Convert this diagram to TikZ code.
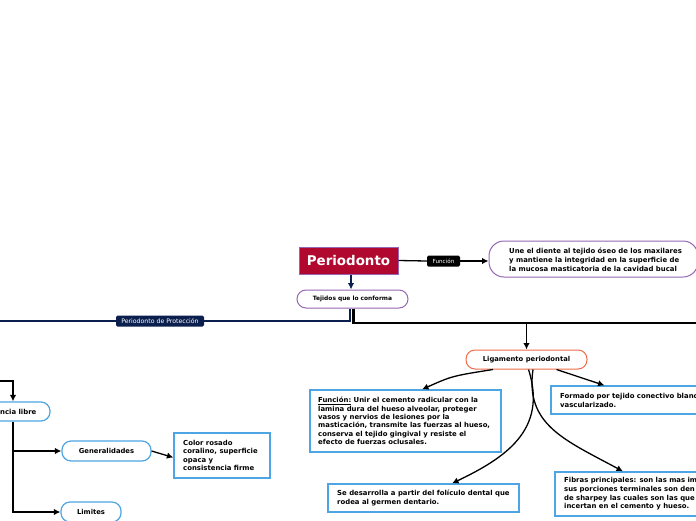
\documentclass[tikz,border=0pt]{standalone}
\usepackage{fontspec}
\setmainfont{DejaVu Sans}
\usetikzlibrary{arrows.meta}
\definecolor{crim}{HTML}{B0082E}
\definecolor{purp}{HTML}{9467B5}
\definecolor{bluec}{HTML}{4DA6E3}
\definecolor{orng}{HTML}{EE6A48}
\definecolor{navy}{HTML}{0B1F4E}
\begin{document}
\begin{tikzpicture}[x=1pt,y=-1pt,
  txt/.style={font=\fontsize{6.9}{8.6}\selectfont\bfseries, inner sep=0pt, align=left, anchor=west},
  shape box/.style={inner sep=0pt, fill=white},
  pbox/.style={shape box, draw=purp, line width=1pt, rounded corners=9pt},
  bbox/.style={shape box, draw=bluec, line width=1.2pt},
  brbox/.style={bbox, rounded corners=9pt},
  obox/.style={shape box, draw=orng, line width=1pt, rounded corners=9pt},
  ctxt/.style={font=\fontsize{6.8}{8.6}\selectfont\bfseries},
  arr/.style={line width=1.3pt, -{Latex[length=6.5pt,width=6.5pt]}},
  plain/.style={line width=1.3pt},
  tag/.style={inner sep=0pt, rounded corners=1.5pt, text=white, font=\fontsize{5.6}{6}\selectfont}
]
\useasboundingbox (0,0) rectangle (696,520);
\clip (0,0) rectangle (696,520);

% main nodes
\node[shape box, fill=crim, draw=purp, line width=1pt, minimum width=99pt, minimum height=27pt,
      text=white, font=\fontsize{13.4}{14}\selectfont\bfseries] (perio) at (348.5,260.5) {Periodonto};
\node[pbox, rounded corners=15pt, minimum width=209pt, minimum height=36pt] (une) at (593.5,259) {};
\node[txt, font=\fontsize{6.9}{9}\selectfont\bfseries] (une-t) at (509,260)
  {Une el diente al tejido óseo de los maxilares\\y mantiene la integridad en la superficie de\\la mucosa masticatoria de la cavidad bucal};
\node[pbox, minimum width=111pt, minimum height=18pt, font=\fontsize{5.9}{7}\selectfont\bfseries] (tej) at (352.5,299) {Tejidos que lo conforma};

\node[tag, fill=black, minimum width=33pt, minimum height=11pt] (funcl) at (443.5,261) {Función};
\node[tag, fill=navy, minimum width=88pt, minimum height=11pt, font=\fontsize{6.2}{7}\selectfont] (protl) at (160,321) {Periodonto de Protección};

\node[obox, minimum width=121pt, minimum height=19pt, ctxt] (lig) at (526.5,359.5) {Ligamento periodontal};

\node[bbox, minimum width=191pt, minimum height=62pt] (funcbox) at (405.5,421) {};
\node[txt, font=\fontsize{6.9}{8.4}\selectfont\bfseries] (funcbox-t) at (318,421)
  {\underline{Función:} Unir el cemento radicular con la\\lamina dura del hueso alveolar, proteger\\vasos y nervios de lesiones por la\\masticación, transmite las fuerzas al hueso,\\conserva el tejido gingival y resiste el\\efecto de fuerzas oclusales.};

\node[bbox, minimum width=149pt, minimum height=28pt] (formado) at (625.5,400) {};
\node[txt, font=\fontsize{6.9}{9}\selectfont\bfseries] (formado-t) at (560,400.5)
  {Formado por tejido conectivo blanc\\vascularizado.};

\node[bbox, minimum width=191pt, minimum height=28pt] (sedes) at (423.5,498) {};
\node[txt, font=\fontsize{6.9}{8.6}\selectfont\bfseries] (sedes-t) at (337,498)
  {Se desarrolla a partir del folículo dental que\\rodea al germen dentario.};

\node[bbox, minimum width=145pt, minimum height=44pt] (fibras) at (627.5,494) {};
\node[txt, font=\fontsize{6.9}{8.7}\selectfont\bfseries] (fibras-t) at (564,494)
  {Fibras principales: son las mas im\\sus porciones terminales son den\\de sharpey las cuales son las que\\incertan en el cemento y hueso.};

% left branch
\node[brbox, minimum width=90pt, minimum height=19pt] (encia) at (5,411.5) {};
\node[txt] (encia-t) at (0,411.5) {ncia libre};
\node[brbox, minimum width=89pt, minimum height=20pt, ctxt] (gen) at (106.5,451) {Generalidades};
\node[bbox, minimum width=96pt, minimum height=45pt] (color) at (222,455.5) {};
\node[txt, font=\fontsize{6.9}{8.5}\selectfont\bfseries] (color-t) at (183,455.5)
  {Color rosado\\coralino, superficie\\opaca y\\consistencia firme};
\node[brbox, minimum width=60pt, minimum height=20pt, ctxt] (lim) at (91,512) {Limites};

% coordinates for free ends
\coordinate (leftend) at (-2,321);
\coordinate (rightend) at (703,323);
\coordinate (br) at (526.5,323);
\coordinate (lefttop) at (-2,381);

% connectors
\draw[plain] (perio.east) -- (funcl.west);
\draw[arr] (funcl.east) -- (une.west |- funcl.east);
\draw[arr, navy] ([xshift=2.5pt]perio.south) -- ([xshift=2.5pt]perio.south |- tej.north);
\draw[plain, navy] ([xshift=-2.5pt]tej.south) |- (protl.east);
\draw[plain, navy] (protl.west) -- (leftend);
\draw[line width=2.2pt, -{Latex[length=7pt,width=8pt]}] ([xshift=1pt]tej.south) |- (rightend);
\draw[arr] (br) -- (lig.north);

\draw[arr] ([xshift=-33.5pt]lig.south) .. controls (452,376) .. ([xshift=16.5pt]funcbox.north);
\draw[arr] ([xshift=30pt]lig.south) -- ([xshift=-21pt]formado.north);
\draw[arr] ([xshift=2pt]lig.south) .. controls (548,430) and (505,458) .. ([xshift=28.5pt]sedes.north);
\draw[arr] ([xshift=6.5pt]lig.south) .. controls (525,425) and (565,440) .. ([xshift=-4.5pt]fibras.north);

\draw[arr] (lefttop) -| ([xshift=8pt]encia.north);
\draw[arr] ([xshift=8pt]encia.south) |- (gen.west);
\draw[arr] ([xshift=8pt]encia.south) |- (lim.west);
\draw[arr] (gen.east) -- ([yshift=-2pt]color.west);
\end{tikzpicture}
\end{document}
